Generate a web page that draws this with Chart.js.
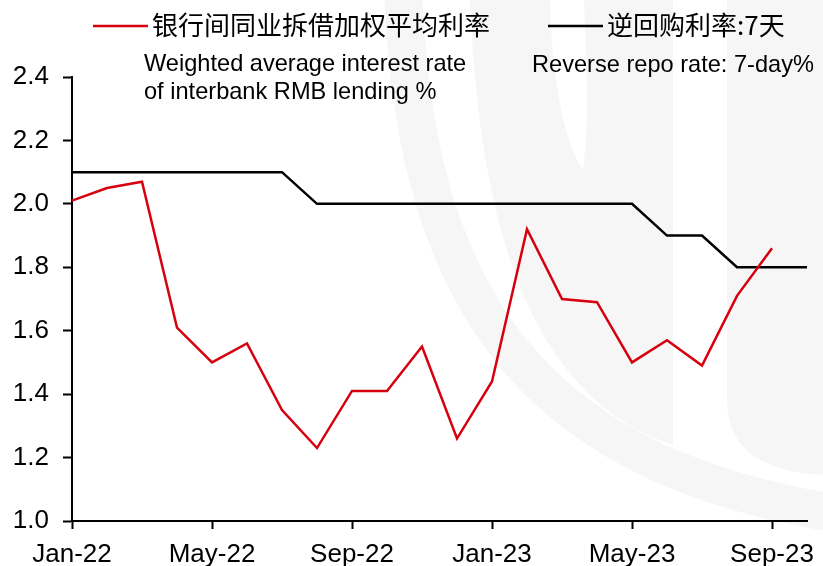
<!DOCTYPE html>
<html lang="zh-CN">
<head>
<meta charset="utf-8">
<title>银行间同业拆借加权平均利率与逆回购利率</title>
<script src="https://cdn.jsdelivr.net/npm/chart.js@4.4.0/dist/chart.umd.min.js"></script>
<style>
  html, body { margin: 0; padding: 0; background: #fff; }
  #wrap { width: 823px; height: 566px; }
</style>
</head>
<body>
<div id="wrap"><canvas id="rate-chart" width="823" height="566"></canvas></div>
<script>
// Monthly series, Jan-22 .. Oct-23
const months = [
    'Jan-22', 'Feb-22', 'Mar-22', 'Apr-22', 'May-22', 'Jun-22', 'Jul-22', 'Aug-22',
    'Sep-22', 'Oct-22', 'Nov-22', 'Dec-22', 'Jan-23', 'Feb-23', 'Mar-23', 'Apr-23',
    'May-23', 'Jun-23', 'Jul-23', 'Aug-23', 'Sep-23', 'Oct-23'
];
const interbankRate = [
    2.01, 2.05, 2.07, 1.61, 1.50, 1.56, 1.35, 1.23,
    1.41, 1.41, 1.55, 1.26, 1.44, 1.92, 1.70, 1.69,
    1.50, 1.57, 1.49, 1.71, 1.86, null
];
const reverseRepo7d = [
    2.1, 2.1, 2.1, 2.1, 2.1, 2.1, 2.1, 2.0,
    2.0, 2.0, 2.0, 2.0, 2.0, 2.0, 2.0, 2.0,
    2.0, 1.9, 1.9, 1.8, 1.8, 1.8
];
const seriesNames = ['银行间同业拆借加权平均利率', '逆回购利率:7天'];
const seriesNotes = [
    ['Weighted average interest rate', 'of interbank RMB lending %'],
    ['Reverse repo rate: 7-day%']
];
const yMin = 1.0, yMax = 2.4, yStep = 0.2;

const latinFont = '"Liberation Sans", Arial, sans-serif';
const cjkFont = '"Noto Sans CJK SC", "Liberation Sans", sans-serif';

Chart.defaults.font.family = latinFont;
Chart.defaults.color = '#000';

// Faint logo behind the plot
const watermark = {
    id: 'watermark',
    beforeDraw(chart) {
        const ctx = chart.ctx;
        ctx.save();
        ctx.fillStyle = '#fff';
        ctx.fillRect(0, 0, chart.width, chart.height);
        ctx.fillStyle = '#f6f6f6';
        ctx.strokeStyle = '#f6f6f6';

        // outer sweep
        ctx.lineWidth = 38;
        ctx.beginPath();
        ctx.moveTo(403, -20);
        ctx.bezierCurveTo(412, 330, 560, 470, 845, 515);
        ctx.stroke();

        // inner body of the C
        ctx.beginPath();
        ctx.moveTo(470, 0);
        ctx.bezierCurveTo(480, 250, 540, 400, 673, 445);
        ctx.lineTo(673, 0);
        ctx.closePath();
        ctx.fill();

        // right bar
        ctx.beginPath();
        ctx.moveTo(727, 0);
        ctx.lineTo(823, 0);
        ctx.lineTo(823, 475);
        ctx.quadraticCurveTo(727, 470, 727, 400);
        ctx.closePath();
        ctx.fill();

        // notch cut into the C
        ctx.fillStyle = '#fff';
        ctx.beginPath();
        ctx.moveTo(550, 0);
        ctx.bezierCurveTo(552, 90, 568, 150, 583, 170);
        ctx.bezierCurveTo(590, 120, 586, 60, 584, 0);
        ctx.closePath();
        ctx.fill();
        ctx.restore();
    }
};

// Legend entries across the top with English notes underneath
const topLegend = {
    id: 'topLegend',
    afterDraw(chart) {
        const ctx = chart.ctx;
        const slots = [
            { lineX: 93, textX: 152, noteX: 144, noteY: [71, 99] },
            { lineX: 548, textX: 607, noteX: 532, noteY: [72] }
        ];
        ctx.save();
        chart.data.datasets.forEach((ds, i) => {
            const s = slots[i];
            ctx.strokeStyle = ds.borderColor;
            ctx.lineWidth = 2.5;
            ctx.beginPath();
            ctx.moveTo(s.lineX, 26);
            ctx.lineTo(s.lineX + 55, 26);
            ctx.stroke();

            ctx.fillStyle = '#000';
            ctx.textBaseline = 'middle';
            ctx.textAlign = 'left';
            ctx.font = '26px ' + cjkFont;
            ctx.fillText(ds.label, s.textX, 25);

            ctx.textBaseline = 'alphabetic';
            ctx.font = '23.6px ' + latinFont;
            seriesNotes[i].forEach((line, j) => {
                ctx.fillText(line, s.noteX, s.noteY[j]);
            });
        });
        ctx.restore();
    }
};

const ctx = document.getElementById('rate-chart').getContext('2d');
new Chart(ctx, {
    type: 'line',
    data: {
        labels: months,
        datasets: [
            {
                label: seriesNames[0],
                data: interbankRate,
                borderColor: '#d7000f',
                borderWidth: 2.5,
                spanGaps: false
            },
            {
                label: seriesNames[1],
                data: reverseRepo7d,
                borderColor: '#000000',
                borderWidth: 2.5
            }
        ]
    },
    options: {
        responsive: false,
        animation: false,
        layout: { padding: { top: 77, right: 16, left: 0, bottom: 0 } },
        elements: {
            point: { radius: 0, hoverRadius: 0 },
            line: { tension: 0, borderCapStyle: 'butt', borderJoinStyle: 'miter' }
        },
        plugins: {
            legend: { display: false },
            tooltip: { enabled: false }
        },
        scales: {
            x: {
                grid: { drawOnChartArea: false, tickLength: 8, color: '#000', tickColor: '#000', tickWidth: 2 },
                border: { color: '#000', width: 2 },
                ticks: {
                    autoSkip: false,
                    maxRotation: 0,
                    padding: 10,
                    color: '#000',
                    font: { size: 26 },
                    callback: function(value, index) {
                        return index % 4 === 0 ? this.getLabelForValue(value) : null;
                    }
                },
                afterFit: scale => {
                    scale.height = 45;
                    scale.paddingLeft = 0;
                    scale.paddingRight = 0;
                }
            },
            y: {
                min: yMin,
                max: yMax,
                grid: { drawOnChartArea: false, tickLength: 9, color: '#000', tickColor: '#000', tickWidth: 2 },
                border: { color: '#000', width: 2 },
                ticks: {
                    stepSize: yStep,
                    padding: 14,
                    color: '#000',
                    font: { size: 26 },
                    callback: value => value.toFixed(1)
                },
                afterFit: scale => { scale.width = 72; }
            }
        }
    },
    plugins: [watermark, topLegend]
});
</script>
</body>
</html>
